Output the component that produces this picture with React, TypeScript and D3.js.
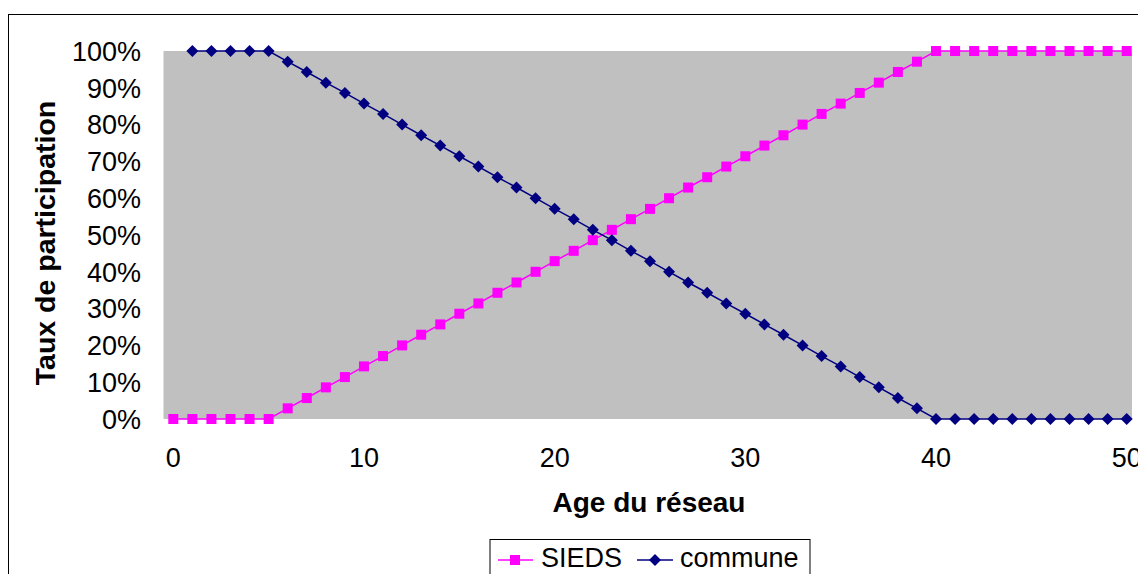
import React from "react";
import * as d3 from "d3";

const ages = d3.range(0, 51);
const siedsValues = [
  0, 0, 0, 0, 0, 0, 2.9, 5.7, 8.6, 11.4, 14.3, 17.1, 20, 22.9, 25.7, 28.6, 31.4, 34.3,
  37.1, 40, 42.9, 45.7, 48.6, 51.4, 54.3, 57.1, 60, 62.9, 65.7, 68.6, 71.4, 74.3, 77.1,
  80, 82.9, 85.7, 88.6, 91.4, 94.3, 97.1, 100, 100, 100, 100, 100, 100, 100, 100, 100,
  100, 100,
];
const communeAges = d3.range(1, 51);
const communeValues = [
  100, 100, 100, 100, 100, 97.1, 94.3, 91.4, 88.6, 85.7, 82.9, 80, 77.1, 74.3, 71.4,
  68.6, 65.7, 62.9, 60, 57.1, 54.3, 51.4, 48.6, 45.7, 42.9, 40, 37.1, 34.3, 31.4, 28.6,
  25.7, 22.9, 20, 17.1, 14.3, 11.4, 8.6, 5.7, 2.9, 0, 0, 0, 0, 0, 0, 0, 0, 0, 0, 0,
];
const yTicks = [0, 10, 20, 30, 40, 50, 60, 70, 80, 90, 100];
const xTicks = [0, 10, 20, 30, 40, 50];

const W = 1138;
const H = 574;
const FONT = "Liberation Sans, Arial, sans-serif";

export default function App() {
  const x = d3.scaleLinear().domain([0, 50]).range([173.3, 1126.7]);
  const y = d3.scaleLinear().domain([0, 100]).range([419, 51]);
  const plotLeft = 163.5;
  const plotRight = 1132;

  const sieds = ages.map((a, i) => [a, siedsValues[i]] as [number, number]);
  const commune = communeAges.map((a, i) => [a, communeValues[i]] as [number, number]);
  const line = d3
    .line<[number, number]>()
    .x((d) => x(d[0]))
    .y((d) => y(d[1]));

  const pink = "#FF00FF";
  const navy = "#000080";
  const sq = 10;
  const dm = 6;

  return (
    <svg
      width={W}
      height={H}
      style={{ position: "absolute", left: 0, top: 0, display: "block" }}
      fontFamily={FONT}
    >
      <rect x={0} y={0} width={W} height={H} fill="#fff" />
      <rect x={8.5} y={14.5} width={W} height={H} fill="none" stroke="#000" strokeWidth={1} />
      <rect
        x={plotLeft}
        y={y(100)}
        width={plotRight - plotLeft}
        height={y(0) - y(100)}
        fill="#C0C0C0"
      />
      {yTicks.map((t) => (
        <text key={t} x={141} y={y(t)} dy="0.36em" textAnchor="end" fontSize={27} fill="#000">
          {t}%
        </text>
      ))}
      {xTicks.map((t) => (
        <text key={t} x={x(t)} y={467} textAnchor="middle" fontSize={27} fill="#000">
          {t}
        </text>
      ))}
      <text x={649} y={512} textAnchor="middle" fontSize={28} fontWeight="bold" fill="#000">
        Age du réseau
      </text>
      <text
        transform={`translate(55,${243}) rotate(-90)`}
        textAnchor="middle"
        fontSize={28.5}
        fontWeight="bold"
        fill="#000"
      >
        Taux de participation
      </text>
      <path d={line(sieds) ?? ""} fill="none" stroke={pink} strokeWidth={1.5} />
      <path d={line(commune) ?? ""} fill="none" stroke={navy} strokeWidth={1.5} />
      {sieds.map((d) => (
        <rect
          key={"s" + d[0]}
          x={x(d[0]) - sq / 2}
          y={y(d[1]) - sq / 2}
          width={sq}
          height={sq}
          fill={pink}
        />
      ))}
      {commune.map((d) => (
        <path
          key={"c" + d[0]}
          transform={`translate(${x(d[0])},${y(d[1])})`}
          d={`M0,${-dm}L${dm},0L0,${dm}L${-dm},0Z`}
          fill={navy}
        />
      ))}
      {/* legend */}
      <rect x={490} y={539.5} width={320} height={50} fill="#fff" stroke="#000" strokeWidth={1} />
      <line x1={498} x2={533} y1={560} y2={560} stroke={pink} strokeWidth={1.5} />
      <rect x={515 - sq / 2} y={560 - sq / 2} width={sq} height={sq} fill={pink} />
      <text x={541} y={567} fontSize={27} fill="#000">SIEDS</text>
      <line x1={637} x2={673} y1={560} y2={560} stroke={navy} strokeWidth={1.5} />
      <path transform="translate(655,560)" d={`M0,${-dm}L${dm},0L0,${dm}L${-dm},0Z`} fill={navy} />
      <text x={680} y={567} fontSize={27} fill="#000">commune</text>
    </svg>
  );
}
